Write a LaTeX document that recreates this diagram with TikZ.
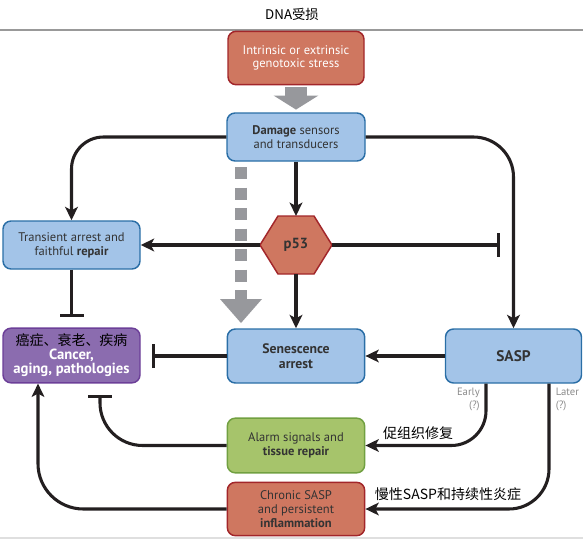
\documentclass[tikz,border=0pt]{standalone}
\usepackage{fontspec}
\setmainfont{PT Sans}
\newfontfamily\cjk{Noto Sans CJK SC}
\usetikzlibrary{arrows.meta,calc}
\definecolor{bluefill}{HTML}{A3C4E8}
\definecolor{blueline}{HTML}{2A6EA6}
\definecolor{redfill}{HTML}{CF7760}
\definecolor{redline}{HTML}{A2262A}
\definecolor{greenfill}{HTML}{A6C46B}
\definecolor{greenline}{HTML}{71A041}
\definecolor{purplefill}{HTML}{8B6CAF}
\definecolor{purpleline}{HTML}{6C3F98}
\definecolor{arrowgray}{HTML}{97989C}
\definecolor{linecol}{HTML}{231F20}
\definecolor{textdark}{HTML}{333333}
\definecolor{labelgray}{HTML}{8A8A8A}
\begin{document}
\begin{tikzpicture}[x=0.75pt,y=-0.75pt,
  box/.style={rounded corners=6pt, line width=1.1pt, align=center, inner sep=2pt,
    font=\fontsize{9.4}{10.3}\selectfont, text=textdark},
  bluebox/.style={box, fill=bluefill, draw=blueline},
  redbox/.style={box, fill=redfill, draw=redline},
  greenbox/.style={box, fill=greenfill, draw=greenline},
  purplebox/.style={box, fill=purplefill, draw=purpleline},
  conn/.style={draw=linecol, line width=2.3pt, -{Stealth[length=10pt,width=9.5pt,inset=2.5pt]}},
  inhib/.style={draw=linecol, line width=2.3pt, -{Bar[width=18pt]}},
  cnlabel/.style={font=\cjk\fontsize{10.5}{12}\selectfont, text=black},
  smalllabel/.style={font=\fontsize{8}{9.5}\selectfont, text=labelgray, inner sep=0pt}
]
\useasboundingbox (0,0) rectangle (583,539);

% title and rules
\node[font=\cjk\fontsize{10}{12}\selectfont] (title) at (292,14) {DNA受损};
\draw[gray!80, line width=0.8pt] (0,30) -- (583,30);
\draw[gray!25, line width=0.8pt] (0,538) -- (583,538);

% boxes
\node[redbox, text=white, minimum width=102pt, minimum height=40pt] (stress) at (296,58) {Intrinsic or extrinsic\\genotoxic stress};
\node[bluebox, minimum width=103.5pt, minimum height=36pt] (damage) at (296,137) {\textbf{Damage} sensors\\and transducers};
\node[bluebox, minimum width=102.75pt, minimum height=36pt] (transient) at (71.5,245) {Transient arrest and\\faithful \textbf{repair}};
\node[purplebox, minimum width=102.75pt, minimum height=41pt, font=\fontsize{11}{10.5}\selectfont] (cancer) at (71.5,355.5) {{\cjk\fontsize{10.5}{10.5}\selectfont\color{black}癌症、衰老、疾病}\\{\bfseries\color{white}Cancer,}\\{\bfseries\color{white}aging, pathologies}};
\node[bluebox, minimum width=103pt, minimum height=40.5pt, font=\bfseries\fontsize{10.3}{11}\selectfont] (senescence) at (296,356) {Senescence\\arrest};
\node[bluebox, minimum width=102pt, minimum height=40.5pt, font=\bfseries\fontsize{11.5}{13}\selectfont] (sasp) at (513.5,356) {SASP};
\node[greenbox, minimum width=103pt, minimum height=41pt] (alarm) at (296,445.5) {Alarm signals and\\\textbf{tissue repair}};
\node[redbox, minimum width=103pt, minimum height=40pt] (chronic) at (296,509) {Chronic SASP\\and persistent\\\textbf{inflammation}};

% p53 hexagon
\coordinate (p53c) at (296,245);
\coordinate (p53w) at ($(p53c)+(-36,0)$);
\coordinate (p53e) at ($(p53c)+(36,0)$);
\coordinate (p53n) at ($(p53c)+(0,-29)$);
\coordinate (p53s) at ($(p53c)+(0,29)$);
\draw[fill=redfill, draw=redline, line width=1.1pt, line join=miter]
  (p53w) -- ($(p53c)+(-18,-29)$) -- ($(p53c)+(18,-29)$) -- (p53e)
  -- ($(p53c)+(18,29)$) -- ($(p53c)+(-18,29)$) -- cycle;
\node[font=\bfseries\fontsize{11}{12}\selectfont, text=textdark] (p53) at (p53c) {p53};

% big gray arrow stress -> damage
\draw[arrowgray, line width=16.5pt, shorten <=1.5pt, shorten >=2pt,
  -{Triangle[length=10.5pt,width=33pt]}] (stress.south) -- (damage.north);

% dashed gray arrow
\coordinate (dashtop) at (241,167);
\coordinate (dashend) at (241,299);
\coordinate (dashtip) at (241,323);
\draw[arrowgray, line width=9pt, dash pattern=on 9pt off 6.4pt] (dashtop) -- (dashend);
\fill[arrowgray] ($(dashend)+(-21,0)$) -- ($(dashend)+(21,0)$) -- (dashtip) -- cycle;

% connectors
\draw[conn, rounded corners=24pt] (damage.west) -| (transient.north);
\draw[conn, rounded corners=30pt] (damage.east) -| (sasp.north);
\draw[conn] (damage.south) -- (p53n);
\draw[conn] (p53w) -- (transient.east);
\coordinate (p53bar) at (500,245);
\draw[inhib] (p53e) -- (p53bar);
\draw[conn] (p53s) -- (senescence.north);
\coordinate (transbar) at (71.5,317);
\draw[inhib] (transient.south) -- (transbar);
\coordinate (senbar) at (152,356);
\draw[inhib] (senescence.west) -- (senbar);
\draw[conn] (sasp.west) -- (senescence.east);

\coordinate (early) at ($(sasp.south)+(-27.5,0)$);
\coordinate (later) at ($(sasp.south)+(35.5,0)$);
\draw[conn, rounded corners=26pt] (early) |- (alarm.east);
\draw[conn, rounded corners=30pt] (later) |- (chronic.east);

\coordinate (alarmbar) at (100,395);
\draw[inhib, rounded corners=32pt] (alarm.west) -| (alarmbar);
\coordinate (cancerin) at ($(cancer.south)+(-33.5,0)$);
\draw[conn, rounded corners=34pt] (chronic.west) -| (cancerin);

% labels
\node[smalllabel, anchor=north east, align=right] (earlylab) at (480,388) {Early\\(?)};
\node[smalllabel, anchor=north west, align=left] (laterlab) at (555.5,388) {Later\\(?)};
\node[cnlabel] (repairlab) at (418,433) {促组织修复};
\node[cnlabel] (inflamlab) at (448,494) {慢性SASP和持续性炎症};
\end{tikzpicture}
\end{document}
